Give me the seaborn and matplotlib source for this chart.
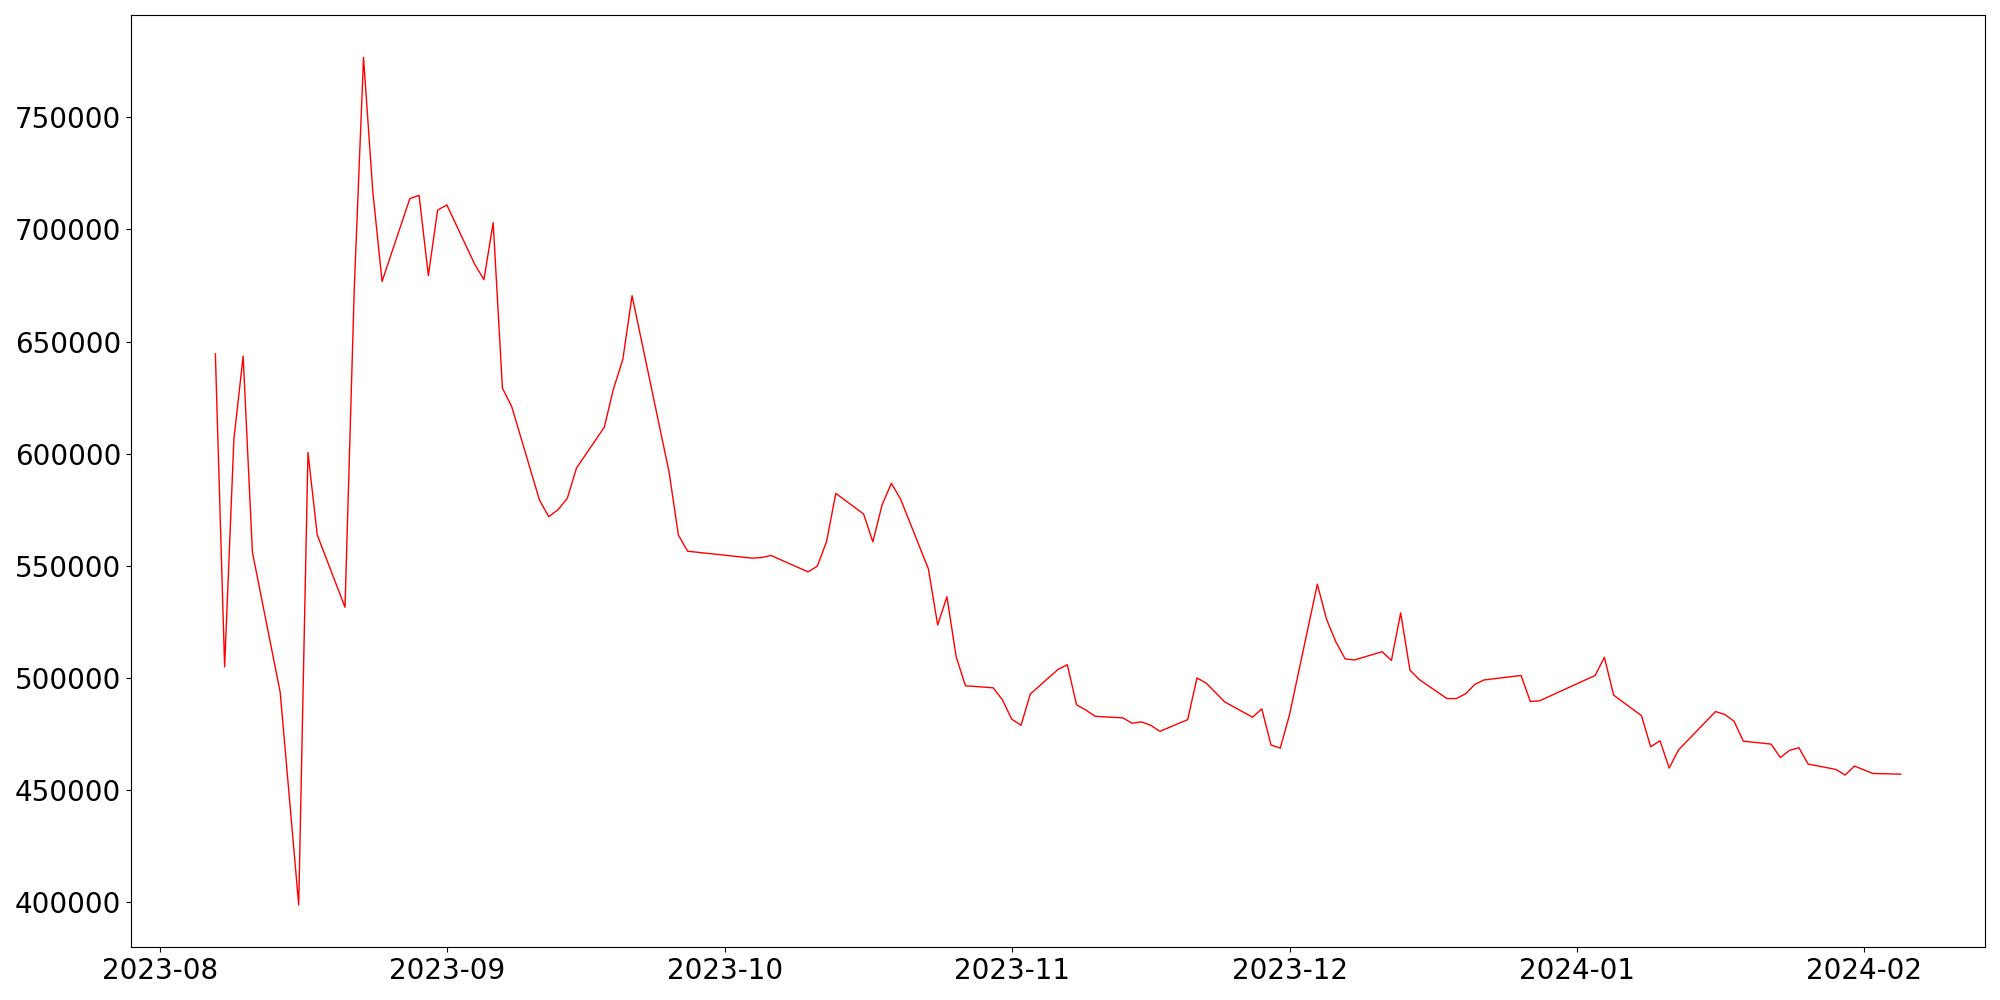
import pandas as pd
import matplotlib
matplotlib.use("Agg")
import matplotlib.pyplot as plt
import seaborn as sns

# Daily values (business days)
dates = [
    "2023-08-07", "2023-08-08", "2023-08-09", "2023-08-10", "2023-08-11",
    "2023-08-14", "2023-08-16", "2023-08-17", "2023-08-18",
    "2023-08-21", "2023-08-22", "2023-08-23", "2023-08-24", "2023-08-25",
    "2023-08-28", "2023-08-29", "2023-08-30", "2023-08-31", "2023-09-01",
    "2023-09-04", "2023-09-05", "2023-09-06", "2023-09-07", "2023-09-08",
    "2023-09-11", "2023-09-12", "2023-09-13", "2023-09-14", "2023-09-15",
    "2023-09-18", "2023-09-19", "2023-09-20", "2023-09-21",
    "2023-09-25", "2023-09-26", "2023-09-27",
    "2023-10-04", "2023-10-05", "2023-10-06",
    "2023-10-10", "2023-10-11", "2023-10-12", "2023-10-13",
    "2023-10-16", "2023-10-17", "2023-10-18", "2023-10-19", "2023-10-20",
    "2023-10-23", "2023-10-24", "2023-10-25", "2023-10-26", "2023-10-27",
    "2023-10-30", "2023-10-31", "2023-11-01", "2023-11-02", "2023-11-03",
    "2023-11-06", "2023-11-07", "2023-11-08", "2023-11-09", "2023-11-10",
    "2023-11-13", "2023-11-14", "2023-11-15", "2023-11-16", "2023-11-17",
    "2023-11-20", "2023-11-21", "2023-11-22", "2023-11-24",
    "2023-11-27", "2023-11-28", "2023-11-29", "2023-11-30", "2023-12-01",
    "2023-12-04", "2023-12-05", "2023-12-06", "2023-12-07", "2023-12-08",
    "2023-12-11", "2023-12-12", "2023-12-13", "2023-12-14", "2023-12-15",
    "2023-12-18", "2023-12-19", "2023-12-20", "2023-12-21", "2023-12-22",
    "2023-12-26", "2023-12-27", "2023-12-28",
    "2024-01-03", "2024-01-04", "2024-01-05",
    "2024-01-08", "2024-01-09", "2024-01-10", "2024-01-11", "2024-01-12",
    "2024-01-16", "2024-01-17", "2024-01-18", "2024-01-19",
    "2024-01-22", "2024-01-23", "2024-01-24", "2024-01-25", "2024-01-26",
    "2024-01-29", "2024-01-30", "2024-01-31", "2024-02-02",
    "2024-02-05",
]
values = [
    644500, 504900, 606400, 643500, 556100,
    493600, 398800, 600500, 563800,
    531500, 673500, 776700, 717000, 676800,
    713700, 715200, 679400, 708600, 710900,
    684500, 677600, 703000, 629200, 621000,
    579300, 571900, 575000, 580000, 593600,
    611800, 629000, 642000, 670400,
    591700, 563700, 556500,
    553400, 553700, 554600,
    547300, 549800, 560800, 582300,
    573100, 560700, 577200, 586800, 579700,
    548600, 523600, 536200, 509400, 496500,
    495600, 490200, 481600, 478900, 492800,
    503800, 505900, 488000, 485700, 482900,
    482200, 479800, 480400, 478900, 476200,
    481400, 500000, 497700, 489300,
    482500, 486200, 470100, 468700, 483700,
    541800, 526100, 516100, 508500, 508000,
    511700, 507800, 529000, 503500, 499300,
    490800, 490800, 492900, 497100, 499100,
    501100, 489500, 489800,
    501100, 509200, 492300,
    483200, 469300, 472000, 459800, 467900,
    485000, 483700, 480700, 471800,
    470500, 464500, 467700, 468900, 461600,
    459200, 456700, 460700, 457400,
    457100,
]

df = pd.DataFrame({"date": pd.to_datetime(dates), "value": values})

plt.figure(figsize=(20, 10), dpi=100)
ax = sns.lineplot(data=df, x="date", y="value", color="red", linewidth=1)
ax.set_xlabel("")
ax.set_ylabel("")
ax.tick_params(axis="both", labelsize=20)
plt.tight_layout()
plt.savefig("out.png")
plt.close()
